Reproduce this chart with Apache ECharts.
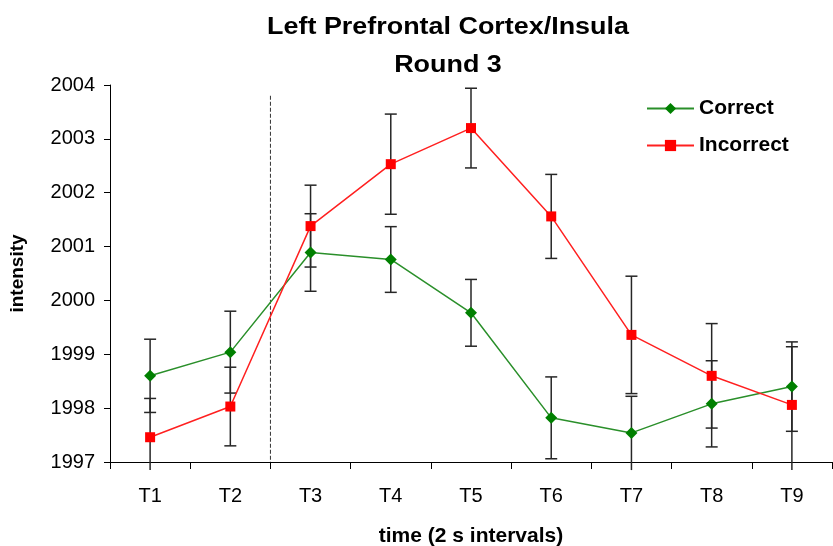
<!DOCTYPE html>
<html>
<head>
<meta charset="utf-8">
<title>Left Prefrontal Cortex/Insula – Round 3</title>
<script src="https://cdn.jsdelivr.net/npm/echarts@6/dist/echarts.min.js"></script>
<style>
  html, body { margin: 0; padding: 0; background: #ffffff; }
  #chart { width: 833px; height: 546px; }
</style>
</head>
<body>
<div id="chart"></div>
<script>
// Time points (2 s intervals)
const timePoints = ['T1', 'T2', 'T3', 'T4', 'T5', 'T6', 'T7', 'T8', 'T9'];

// Mean intensity per time point
const correctMeans   = [1998.60, 1999.04, 2000.89, 2000.76, 1999.77, 1997.82, 1997.54, 1998.08, 1998.40];
const incorrectMeans = [1997.46, 1998.03, 2001.38, 2002.53, 2003.20, 2001.56, 1999.36, 1998.60, 1998.06];

// Symmetric error-bar half widths
const correctErrors   = [0.68, 0.76, 0.72, 0.61, 0.62, 0.76, 0.68, 0.80, 0.83];
const incorrectErrors = [0.72, 0.73, 0.76, 0.93, 0.74, 0.78, 1.09, 0.97, 1.08];

// Value axis range and ticks
const yMin = 1997;
const yMax = 2004;
const yStep = 1;

// Stimulus onset marker sits between T2 and T3
const onsetAfterIndex = 1;
const onsetTop = 2003.8;

const FONT = '"Liberation Sans", Arial, Helvetica, sans-serif';

function errorRows(means, errors) {
  return means.map((m, i) => [i, m, errors[i]]);
}

function renderErrorBar(params, api) {
  const i = api.value(0);
  const mean = api.value(1);
  const err = api.value(2);
  const hi = mean + err;
  const lo = mean - err;
  const capHalf = 6;
  const top = api.coord([i, Math.min(hi, yMax)]);
  const bottomVal = lo < yMin ? yMin - 0.15 : lo;
  const bottom = api.coord([i, bottomVal]);
  const style = { stroke: '#262626', lineWidth: 1.5 };
  const children = [
    { type: 'line', shape: { x1: top[0], y1: top[1], x2: bottom[0], y2: bottom[1] }, style: style }
  ];
  if (hi <= yMax) {
    children.push({ type: 'line', shape: { x1: top[0] - capHalf, y1: top[1], x2: top[0] + capHalf, y2: top[1] }, style: style });
  }
  if (lo >= yMin) {
    children.push({ type: 'line', shape: { x1: bottom[0] - capHalf, y1: bottom[1], x2: bottom[0] + capHalf, y2: bottom[1] }, style: style });
  }
  return { type: 'group', children: children };
}

function renderOnset(params, api) {
  const a = api.coord([onsetAfterIndex, yMin]);
  const b = api.coord([onsetAfterIndex + 1, yMin]);
  const x = (a[0] + b[0]) / 2;
  const top = api.coord([onsetAfterIndex, onsetTop]);
  return {
    type: 'line',
    shape: { x1: x, y1: top[1], x2: x, y2: a[1] },
    style: { stroke: '#333333', lineWidth: 1, lineDash: [4, 2] }
  };
}

function titleLine(text, y) {
  return {
    type: 'text',
    x: 448,
    y: y,
    scaleX: 1.17,
    style: {
      text: text,
      font: 'bold 23px ' + FONT,
      fill: '#000000',
      textAlign: 'center',
      textVerticalAlign: 'middle'
    }
  };
}

const chart = echarts.init(document.getElementById('chart'), null, { renderer: 'canvas' });

chart.setOption({
  animation: false,
  backgroundColor: '#ffffff',
  graphic: [
    titleLine('Left Prefrontal Cortex/Insula', 28),
    titleLine('Round 3', 66)
  ],
  legend: {
    orient: 'vertical',
    left: 641,
    top: 93,
    itemWidth: 47,
    itemHeight: 14,
    itemGap: 16,
    data: ['Correct', 'Incorrect'],
    textStyle: { fontFamily: FONT, fontSize: 21, fontWeight: 'bold', color: '#000000' }
  },
  grid: {
    left: 110,
    right: 1,
    top: 85,
    bottom: 84,
    containLabel: false,
    outerBoundsMode: 'none'
  },
  xAxis: {
    type: 'category',
    data: timePoints,
    boundaryGap: true,
    name: 'time (2 s intervals)',
    nameLocation: 'middle',
    nameGap: 64,
    nameTextStyle: { fontFamily: FONT, fontSize: 21, fontWeight: 'bold', color: '#000000' },
    axisLine: { lineStyle: { color: '#000000', width: 1 } },
    axisTick: { show: true, inside: false, length: 7, interval: 0, lineStyle: { color: '#000000' } },
    axisLabel: { fontFamily: FONT, fontSize: 20, color: '#000000', margin: 24, interval: 0 },
    splitLine: { show: false }
  },
  yAxis: {
    type: 'value',
    min: yMin,
    max: yMax,
    interval: yStep,
    name: 'intensity',
    nameLocation: 'middle',
    nameGap: 83,
    nameRotate: 90,
    nameTextStyle: { fontFamily: FONT, fontSize: 19, fontWeight: 'bold', color: '#000000' },
    axisLine: { show: true, lineStyle: { color: '#000000', width: 1 } },
    axisTick: { show: true, inside: false, length: 6, lineStyle: { color: '#000000' } },
    axisLabel: {
      fontFamily: FONT,
      fontSize: 20,
      color: '#000000',
      margin: 15,
      formatter: (v) => String(v)
    },
    splitLine: { show: false }
  },
  series: [
    {
      type: 'custom',
      name: 'onset',
      renderItem: renderOnset,
      data: [[onsetAfterIndex, yMin]],
      z: 1,
      silent: true
    },
    {
      type: 'custom',
      name: 'Correct error',
      renderItem: renderErrorBar,
      data: errorRows(correctMeans, correctErrors),
      encode: { x: 0, y: 1 },
      z: 2,
      silent: true
    },
    {
      type: 'custom',
      name: 'Incorrect error',
      renderItem: renderErrorBar,
      data: errorRows(incorrectMeans, incorrectErrors),
      encode: { x: 0, y: 1 },
      z: 2,
      silent: true
    },
    {
      type: 'line',
      name: 'Correct',
      data: correctMeans,
      symbol: 'diamond',
      symbolSize: 12,
      showAllSymbol: true,
      itemStyle: { color: '#008000' },
      lineStyle: { color: '#2a8f2a', width: 1.5 },
      z: 3
    },
    {
      type: 'line',
      name: 'Incorrect',
      data: incorrectMeans,
      symbol: 'rect',
      symbolSize: 10,
      showAllSymbol: true,
      itemStyle: { color: '#ff0000' },
      lineStyle: { color: '#ff2020', width: 1.5 },
      z: 3
    }
  ]
});
</script>
</body>
</html>
